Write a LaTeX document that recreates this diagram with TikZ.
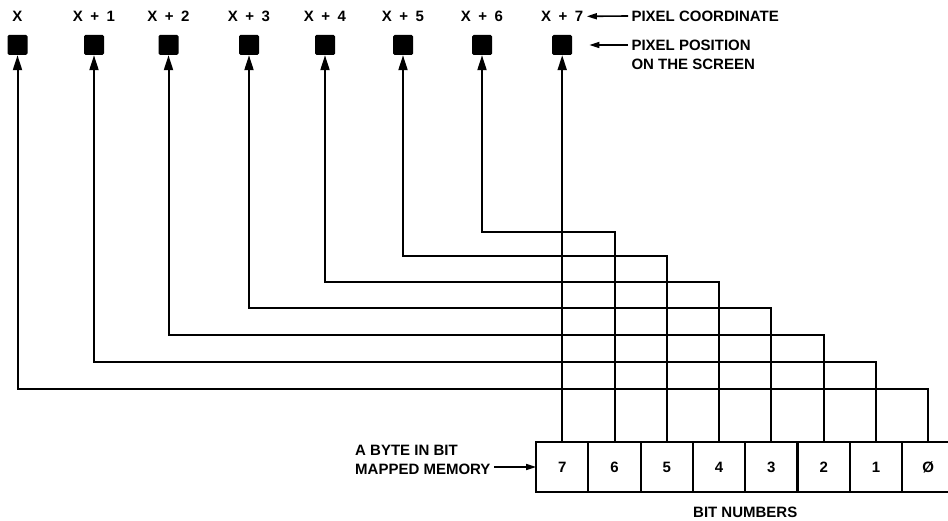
\documentclass[tikz,border=0pt]{standalone}
\usepackage{fontspec}
\setmainfont{Liberation Sans}
\usetikzlibrary{arrows.meta}
\usetikzlibrary{positioning}

\begin{document}
\begin{tikzpicture}[x=1pt,y=-1pt,
  font=\fontsize{15}{18.5}\selectfont\bfseries,
  >={Triangle[length=15pt,width=9pt]},
  pixel/.style={fill=black,minimum size=20pt,inner sep=0pt,rounded corners=1.5pt},
  bitcell/.style={draw,line width=2.2pt,outer sep=0pt,minimum width=52.3pt,minimum height=50pt,inner sep=0pt},
  wire/.style={line width=2pt,->},
  pointer/.style={line width=1.6pt,-{Triangle[length=10pt,width=6pt]}}
  ]
\useasboundingbox (0,0) rectangle (948,521);

% the pixels on the screen and their coordinates
\foreach \i/\x in {0/17.5, 1/94, 2/168.5, 3/249, 4/325, 5/403, 6/482, 7/562.2}
  {
  \node[pixel] (p\i) at (\x,45) {};
  \ifnum\i=0
    \node[anchor=base] (c\i) at (\x,21.5) {X};
  \else
    \node[anchor=base] (c\i) at (\x,21.5) {X\enspace+\enspace\i};
  \fi
  }

% the byte, bit 7 on the left
\node[bitcell] (b7) at (562.2,467) {7};
\foreach \i [evaluate=\i as \j using int(\i+1)] in {6,...,1}
  \node[bitcell,right=0pt of b\j] (b\i) {\i};
\node[bitcell,right=0pt of b1] (b0) {Ø};

\node[below=11pt of b4.south east] (bitnum) {BIT NUMBERS};

% each bit goes up to its pixel
\draw[wire] (b7.north) -- (p7.south);
\foreach \i/\y in {6/232,5/256,4/282,3/308,2/335,1/362,0/389}
  \draw[wire] (b\i.north) |- (p\i.south |- 0,\y) -- (p\i.south);

% labels
\node[anchor=west] (coord) at (628,16) {PIXEL COORDINATE};
\draw[pointer] (coord.west) -- (c7.east);

\node[anchor=west,align=left] (screen) at (628,55) {PIXEL POSITION\\ON THE SCREEN};
\draw[pointer] (screen.west |- p7.east) -- ([xshift=17pt]p7.east);

\node[anchor=east,align=left] (byte) at (494,460) {A BYTE IN BIT\\MAPPED MEMORY};
\draw[pointer] (byte.east |- b7.west) -- (b7.west);
\end{tikzpicture}
\end{document}
